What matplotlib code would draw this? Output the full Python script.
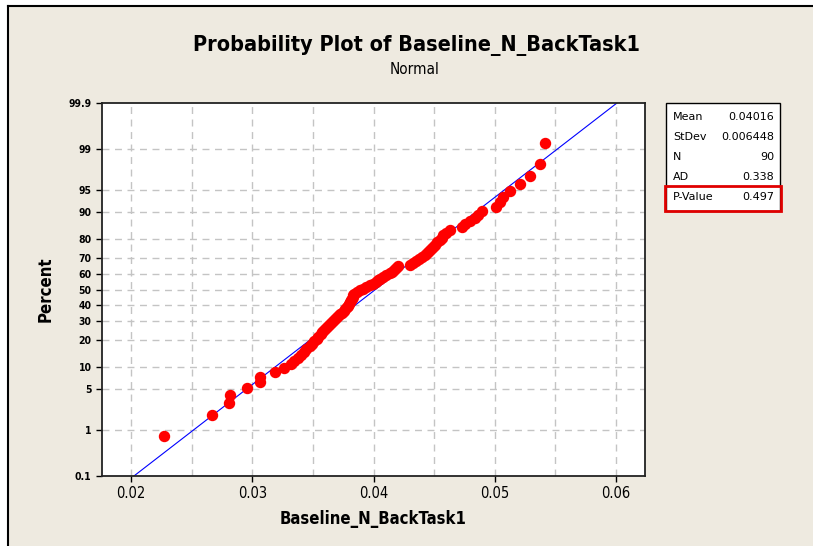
import numpy as np
import matplotlib.pyplot as plt
from matplotlib.lines import Line2D
from matplotlib.patches import Rectangle
from statistics import NormalDist

# sorted observations of Baseline_N_BackTask1 (n = 90)
baseline = [
    0.02269, 0.02664, 0.02806, 0.02814, 0.02956, 0.03061, 0.03061, 0.03184, 0.03258, 0.03316,
    0.03341, 0.03373, 0.03398, 0.03423, 0.03447, 0.03472, 0.03489, 0.03505, 0.03530, 0.03546,
    0.03563, 0.03579, 0.03595, 0.03612, 0.03628, 0.03645, 0.03661, 0.03678, 0.03694, 0.03711,
    0.03727, 0.03743, 0.03760, 0.03768, 0.03785, 0.03793, 0.03801, 0.03809, 0.03817, 0.03826,
    0.03830, 0.03834, 0.03842, 0.03867, 0.03892, 0.03916, 0.03941, 0.03974, 0.03998, 0.04023,
    0.04040, 0.04056, 0.04081, 0.04105, 0.04138, 0.04155, 0.04171, 0.04188, 0.04204, 0.04303,
    0.04327, 0.04352, 0.04377, 0.04401, 0.04426, 0.04442, 0.04459, 0.04475, 0.04492, 0.04508,
    0.04525, 0.04549, 0.04566, 0.04574, 0.04599, 0.04632, 0.04730, 0.04755, 0.04796, 0.04837,
    0.04862, 0.04895, 0.05010, 0.05043, 0.05067, 0.05125, 0.05207, 0.05289, 0.05372, 0.05413,
]

stat_names = ['Mean', 'StDev', 'N', 'AD', 'P-Value']
stat_values = ['0.04016', '0.006448', '90', '0.338', '0.497']
mean, stdev = 0.04016, 0.006448

pct_ticks = [0.1, 1, 5, 10, 20, 30, 40, 50, 60, 70, 80, 90, 95, 99, 99.9]
pct_labels = ['0.1', '1', '5', '10', '20', '30', '40', '50', '60', '70', '80', '90', '95', '99', '99.9']
x_ticks = [0.02, 0.03, 0.04, 0.05, 0.06]
x_labels = ['0.02', '0.03', '0.04', '0.05', '0.06']

nd = NormalDist()
n = len(baseline)
# median-rank plotting positions, shown on a normal-probability axis
z_pts = [nd.inv_cdf((i - 0.3) / (n + 0.4)) for i in range(1, n + 1)]
z_ticks = [nd.inv_cdf(p / 100) for p in pct_ticks]

cond = dict(family='DejaVu Sans', fontstretch='condensed')

bg = '#EEEAE0'
fig = plt.figure(figsize=(8.13, 5.46), dpi=100, facecolor='white')
fig.patches.append(Rectangle((8/813, 0), 1, 1 - 6/546, transform=fig.transFigure,
                             facecolor=bg, edgecolor='none', zorder=-10))
fig.lines.append(Line2D([8/813, 8/813], [0, 1 - 6/546], transform=fig.transFigure, color='black', lw=1.5))
fig.lines.append(Line2D([8/813, 1], [1 - 6/546, 1 - 6/546], transform=fig.transFigure, color='black', lw=1.5))

ax = fig.add_axes([102/813, 1 - 476/546, (645 - 102)/813, (476 - 103)/546])
ax.set_facecolor('white')

# grid
for xv in np.arange(0.02, 0.0601, 0.005):
    ax.axvline(xv, color='#C4C4C4', lw=1, ls=(0, (5, 4)), zorder=0)
for zv in z_ticks[1:-1]:
    ax.axhline(zv, color='#C4C4C4', lw=1, ls=(0, (5, 4)), zorder=0)

# fitted normal line
z_line = [z_ticks[0], z_ticks[-1]]
ax.plot([mean + stdev * z for z in z_line], z_line, color='#0000FF', lw=0.8, zorder=2)

ax.plot(baseline, z_pts, 'o', color='#FF0000', ms=7.2, mec='#FF0000', zorder=3)

ax.set_xlim(0.0176, 0.0624)
ax.set_ylim(z_ticks[0], z_ticks[-1])
ax.set_xticks(x_ticks)
ax.set_xticklabels(x_labels, fontsize=10.5, **cond)
ax.set_yticks(z_ticks)
ax.set_yticklabels(pct_labels, fontsize=7.5, fontweight='bold', **cond)
ax.tick_params(direction='out', length=4, width=1)
for s in ax.spines.values():
    s.set_linewidth(1.3)
    s.set_color('#222222')

ax.set_xlabel('Baseline_N_BackTask1', fontsize=12, fontweight='bold', labelpad=6, **cond)
ax.set_ylabel('Percent', fontsize=12, fontweight='bold', labelpad=10, **cond)

fig.text(0.512, 1 - 45/546, 'Probability Plot of Baseline_N_BackTask1', ha='center', va='center',
         fontsize=15.5, fontweight='bold', **cond)
fig.text(0.51, 1 - 70/546, 'Normal', ha='center', va='center', fontsize=11, **cond)

# summary box
bx0, bx1, by0, by1 = 666, 780, 103, 211
fig.patches.append(Rectangle((bx0/813, 1 - by1/546), (bx1 - bx0)/813, (by1 - by0)/546,
                             transform=fig.transFigure, facecolor='white', edgecolor='black', lw=1))
for k, (name, val) in enumerate(zip(stat_names, stat_values)):
    yy = 1 - (117 + 20 * k)/546
    fig.text(673/813, yy, name, ha='left', va='center', fontsize=8, family='DejaVu Sans')
    fig.text(774/813, yy, val, ha='right', va='center', fontsize=8, family='DejaVu Sans')
fig.patches.append(Rectangle((665/813, 1 - 211/546), (781 - 665)/813, (211 - 186)/546,
                             transform=fig.transFigure, facecolor='none', edgecolor='#E00000', lw=2))

fig.savefig('out.png', dpi=100, facecolor=fig.get_facecolor())
